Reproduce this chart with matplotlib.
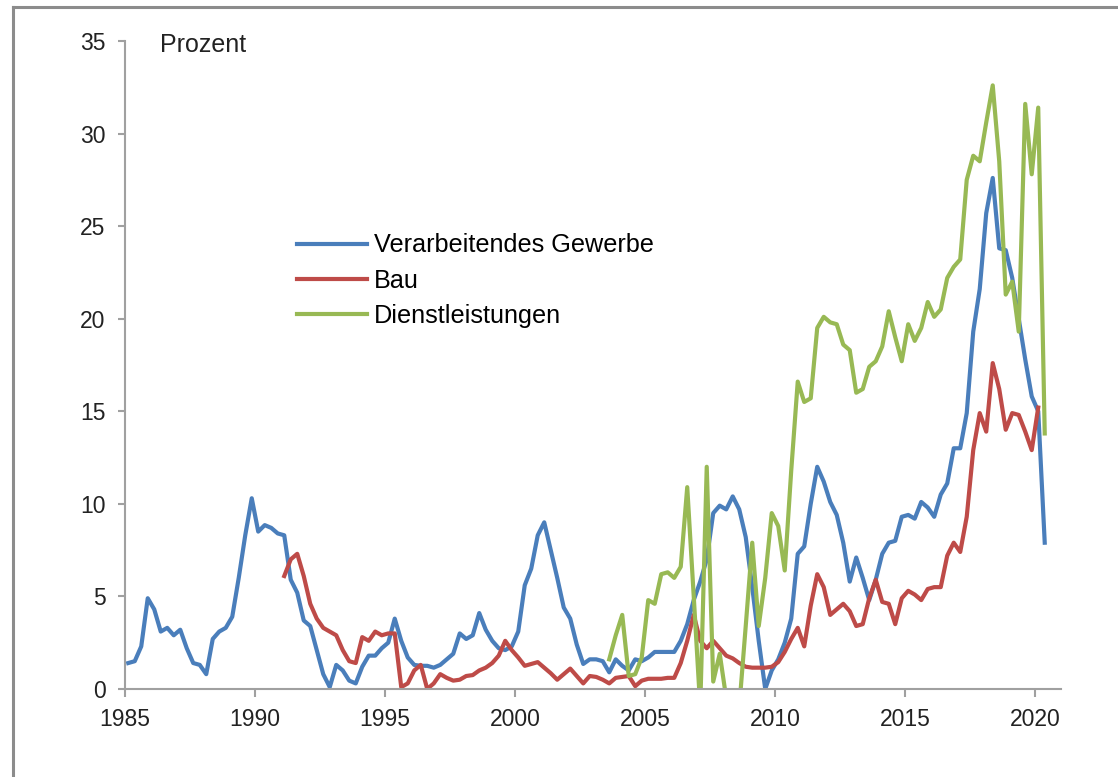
import numpy as np
import matplotlib
matplotlib.use('Agg')
import matplotlib.pyplot as plt
from matplotlib.lines import Line2D

plt.rcParams['font.family'] = ['Liberation Sans', 'DejaVu Sans']

# Quartalswerte in Prozent (erstes Quartal der jeweiligen Reihe)
blue_start = 1985.0   # 1985 Q1
red_start = 1991.0    # 1991 Q1
green_start = 2003.5  # 2003 Q3

verarbeitendes_gewerbe = [
    1.4, 1.5, 2.3, 4.9, 4.3, 3.1, 3.3, 2.9, 3.2, 2.2,
    1.4, 1.3, 0.8, 2.7, 3.1, 3.3, 3.9, 6.0, 8.3, 10.3,
    8.5, 8.85, 8.7, 8.4, 8.3, 5.9, 5.2, 3.7, 3.4, 2.1,
    0.8, 0.1, 1.3, 1.0, 0.45, 0.3, 1.2, 1.8, 1.8, 2.2,
    2.5, 3.8, 2.6, 1.7, 1.3, 1.25, 1.25, 1.15, 1.3, 1.6,
    1.9, 3.0, 2.7, 2.9, 4.1, 3.2, 2.6, 2.2, 2.1, 2.3,
    3.1, 5.6, 6.5, 8.3, 9.0, 7.5, 6.0, 4.4, 3.8, 2.4,
    1.35, 1.6, 1.6, 1.5, 0.9, 1.6, 1.25, 1.0, 1.6, 1.5,
    1.7, 2.0, 2.0, 2.0, 2.0, 2.6, 3.5, 4.8, 5.8, 7.0,
    9.5, 9.9, 9.7, 10.4, 9.7, 8.2, 5.5, 2.6, 0.0, 1.0,
    1.6, 2.5, 3.8, 7.3, 7.7, 10.0, 12.0, 11.2, 10.1, 9.4,
    7.9, 5.8, 7.1, 6.0, 4.8, 5.9, 7.3, 7.9, 8.0, 9.3,
    9.4, 9.2, 10.1, 9.8, 9.3, 10.5, 11.1, 13.0, 13.0, 14.9,
    19.3, 21.6, 25.7, 27.6, 23.8, 23.7, 22.2, 20.0, 17.8, 15.8,
    15.0, 7.9,
]

bau = [
    6.1, 7.0, 7.3, 6.1, 4.6, 3.8, 3.3, 3.1, 2.9, 2.1,
    1.5, 1.4, 2.8, 2.6, 3.1, 2.9, 3.0, 3.0, 0.1, 0.3,
    1.0, 1.3, 0.0, 0.3, 0.8, 0.6, 0.45, 0.5, 0.7, 0.75,
    1.0, 1.15, 1.4, 1.8, 2.6, 2.1, 1.7, 1.25, 1.35, 1.45,
    1.15, 0.85, 0.5, 0.8, 1.1, 0.7, 0.3, 0.7, 0.65, 0.5,
    0.3, 0.6, 0.65, 0.7, 0.15, 0.45, 0.55, 0.55, 0.55, 0.6,
    0.6, 1.4, 2.6, 4.0, 2.6, 2.2, 2.6, 2.2, 1.8, 1.65,
    1.4, 1.2, 1.15, 1.15, 1.15, 1.2, 1.45, 2.0, 2.7, 3.3,
    2.3, 4.5, 6.2, 5.5, 4.0, 4.3, 4.6, 4.2, 3.4, 3.5,
    4.9, 5.9, 4.7, 4.6, 3.5, 4.9, 5.3, 5.1, 4.8, 5.4,
    5.5, 5.5, 7.2, 7.9, 7.4, 9.3, 12.9, 14.9, 13.9, 17.6,
    16.2, 14.0, 14.9, 14.8, 13.9, 12.9, 15.2,
]

dienstleistungen = [
    1.6, 2.9, 4.0, 0.7, 0.8, 1.7, 4.8, 4.6, 6.2, 6.3,
    6.0, 6.6, 10.9, 5.0, -1.0, 12.0, 0.4, 1.9, -0.5, -2.0,
    -1.0, 3.4, 7.9, 3.4, 6.0, 9.5, 8.8, 6.4, 11.8, 16.6,
    15.5, 15.7, 19.5, 20.1, 19.8, 19.7, 18.6, 18.3, 16.0, 16.2,
    17.4, 17.7, 18.5, 20.4, 19.0, 17.7, 19.7, 18.8, 19.5, 20.9,
    20.1, 20.5, 22.2, 22.8, 23.2, 27.5, 28.8, 28.5, 30.6, 32.6,
    28.5, 21.3, 22.0, 19.3, 31.6, 27.8, 31.4, 13.8,
]

labels = ['Verarbeitendes Gewerbe', 'Bau', 'Dienstleistungen']
colors = ['#4a7ebb', '#be4b48', '#98b954']


def quarters(start, n):
    # Punkte jeweils in der Quartalsmitte
    return start + 0.125 + np.arange(n) * 0.25


fig = plt.figure(figsize=(11.18, 7.77), dpi=100)
ax = fig.add_axes([0.1118, 0.1133, 0.8372, 0.834])

series = [(blue_start, verarbeitendes_gewerbe),
          (red_start, bau),
          (green_start, dienstleistungen)]
for (start, vals), lab, col in zip(series, labels, colors):
    ax.plot(quarters(start, len(vals)), vals, color=col, lw=3.0,
            label=lab, solid_joinstyle='round')

ax.set_xlim(1985, 2021)
ax.set_ylim(0, 35)
ax.set_xticks(np.arange(1985, 2021, 5))
ax.set_yticks(np.arange(0, 36, 5))

for s in ['top', 'right']:
    ax.spines[s].set_visible(False)
for s in ['left', 'bottom']:
    ax.spines[s].set_color('#a0a0a0')
    ax.spines[s].set_linewidth(1.5)

ax.tick_params(axis='both', direction='out', color='#a0a0a0', width=1.5,
               labelsize=16.5, labelcolor='#222222')
ax.tick_params(axis='y', length=5, pad=9)
ax.tick_params(axis='x', length=6, pad=8)

ax.text(0.037, 0.994, 'Prozent', transform=ax.transAxes, fontsize=18,
        color='#222222', va='center', ha='left')

ax.legend(loc='upper left', bbox_to_anchor=(0.1838, 0.703), frameon=False,
          fontsize=18.2, handlelength=2.75, handletextpad=0.3,
          labelspacing=0.44, borderpad=0, borderaxespad=0)

# grauer Rahmen links und oben
fig.add_artist(Line2D([13 / 1118, 13 / 1118], [0, 1 - 7 / 777],
                      transform=fig.transFigure, color='#8c8c8c', lw=2.2))
fig.add_artist(Line2D([13 / 1118, 1], [1 - 7 / 777, 1 - 7 / 777],
                      transform=fig.transFigure, color='#8c8c8c', lw=2.2))

fig.savefig('out.png', dpi=100)
